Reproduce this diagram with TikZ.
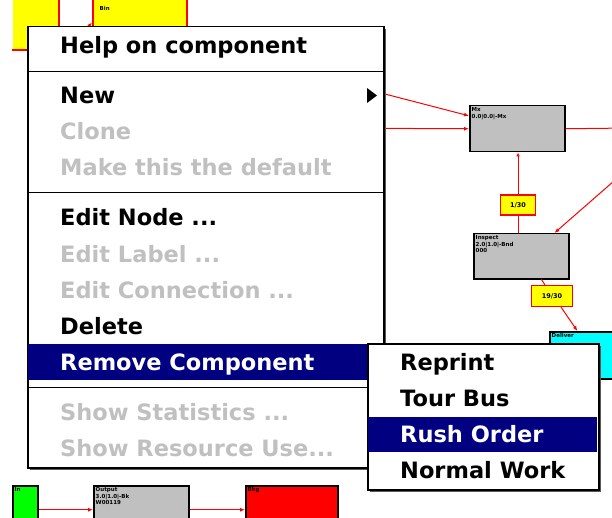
\documentclass[tikz,border=0pt]{standalone}
\usepackage{fontspec}
\setmainfont{DejaVu Sans}
\usepackage{xcolor}
\usepackage{tikz}
\usetikzlibrary{arrows.meta,positioning,calc,shadows}

\definecolor{winnavy}{RGB}{0,0,128}
\definecolor{wingrey}{RGB}{192,192,192}
\definecolor{wincyan}{RGB}{0,255,255}
\definecolor{wingreen}{RGB}{0,255,0}
\definecolor{winred}{RGB}{255,0,0}
\definecolor{winyellow}{RGB}{255,255,0}

\begin{document}
\begin{tikzpicture}[x=1pt, y=-1pt,
    item/.style={anchor=base west, inner sep=0pt, font=\fontsize{22.5}{27}\selectfont\bfseries},
    dimmed/.style={item, text=wingrey},
    picked/.style={item, text=white},
    panel/.style={draw=black, line width=1.5pt, fill=white, anchor=north west, inner sep=0pt,
        drop shadow={shadow xshift=2pt, shadow yshift=-2pt, fill=black!65, opacity=1}},
    station/.style={draw=black, line width=1.5pt, fill=wingrey, anchor=north west, inner sep=0pt, minimum width=95pt},
    bin/.style={draw=winred, line width=2pt, fill=winyellow, anchor=north west, inner sep=0pt},
    tag/.style={draw=winred, line width=1.2pt, fill=winyellow, inner sep=0pt, font=\fontsize{6.5}{7}\selectfont\bfseries},
    boxtext/.style={anchor=north west, inner sep=2.5pt, align=left, font=\fontsize{5.5}{6.5}\selectfont\bfseries},
    flow/.style={winred, line width=1pt, -{Latex[length=5pt,width=4pt]}},
    plain/.style={winred, line width=1pt},
]
\useasboundingbox (0,0) rectangle (612,518);
\clip (0,0) rectangle (612,518);
\fill[white] (0,0) rectangle (612,518);

% Model behind the menu
\node[bin, draw=none, minimum width=45pt, minimum height=68pt] (binA) at (12,-20) {};
\draw[winred, line width=2pt] (binA.north east) -- (binA.south east) -- (binA.south west);
\node[bin, minimum width=94pt, minimum height=100pt] (binB) at (92,-20) {};
\node[boxtext] (binBtxt) at ($(binB.north west)+(5,24)$) {Bin};

\node[station, minimum height=46pt] (mix) at (469,105) {};
\node[boxtext] (mixtxt) at (mix.north west) {Mx\\0.0|0.0|-Mx};
\node[station, minimum height=45pt] (inspect) at (473,233) {};
\node[boxtext] (inspecttxt) at (inspect.north west) {Inspect\\2.0|1.0|-Bnd\\000};
\node[tag, minimum width=35pt, minimum height=20pt] (tagA) at (518,205) {1/30};
\node[tag, minimum width=41pt, minimum height=21pt] (tagB) at (552,296) {19/30};
\node[station, fill=wincyan, minimum width=80pt, minimum height=47pt] (deliver) at (549,331) {};
\node[boxtext] (delivertxt) at (deliver.north west) {Deliver};

\node[station, fill=wingreen, minimum width=25pt, minimum height=48pt] (inbox) at (12,485) {};
\node[boxtext] (inboxtxt) at (inbox.north west) {In};
\node[station, minimum height=48pt] (output) at (93,485) {};
\node[boxtext] (outputtxt) at (output.north west) {Output\\3.0|1.0|-Bk\\W00119};
\node[station, fill=winred, minimum width=92pt, minimum height=48pt] (sink) at (245,485) {};
\node[boxtext] (sinktxt) at (sink.north west) {Bkg};

% Connections
\coordinate (feedA) at (300,72);
\coordinate (feedB) at (300,128);
\coordinate (feedC) at (630,167);
\coordinate (feedD) at (60,60);
\coordinate (exitA) at (630,128);
\draw[flow] (feedA) -- (mix.165);
\draw[flow] (feedB) -- (mix.west);
\draw[plain] (mix.east) -- (exitA);
\draw[winred, line width=1pt, -{Latex[open,length=4pt,width=4pt]}] (tagA.north) -- (tagA.north |- mix.south);
\draw[plain] (tagA.south) -- (tagA.south |- inspect.north);
\draw[flow] (feedC) -- (inspect.35);
\draw[plain] (inspect.-49) -- (tagB.122);
\draw[flow] (tagB.-51) -- (deliver.117);
\draw[flow] (feedD) -- (binB.170);
\draw[flow] (inbox) -- (output);
\draw[flow] (output) -- (sink);

% Context menu
\node[panel, minimum width=356pt, minimum height=441pt] (menu) at (27,26) {};
\draw[line width=1pt] (27,72) -- (383,72);
\draw[line width=1pt] (27,193) -- (383,193);
\fill[winnavy] (28,344) rectangle (382,380);
\draw[line width=1pt] (27,387) -- (383,387);

\node[item] (help) at (60,54) {Help on component};
\node[item] (new) at (60,104) {New};
\node[dimmed] (clone) at (60,140) {Clone};
\node[dimmed] (makedefault) at (60,176) {Make this the default};
\node[item] (editnode) at (60,226) {Edit Node ...};
\node[dimmed] (editlabel) at (60,262) {Edit Label ...};
\node[dimmed] (editconn) at (60,298) {Edit Connection ...};
\node[item] (delete) at (60,334) {Delete};
\node[picked] (remove) at (60,370) {Remove Component};
\node[dimmed] (showstats) at (60,420) {Show Statistics ...};
\node[dimmed] (showres) at (60,456) {Show Resource Use...};
\fill (367,88) -- (377,95.5) -- (367,103) -- cycle;

% Cascade menu
\node[panel, minimum width=231pt, minimum height=146pt] (cascade) at (367,343) {};
\fill[winnavy] (368,417) rectangle (597,452);
\node[item] (reprint) at (400,370) {Reprint};
\node[item] (tourbus) at (400,406) {Tour Bus};
\node[picked] (rushorder) at (400,442) {Rush Order};
\node[item] (normalwork) at (400,478) {Normal Work};

\end{tikzpicture}
\end{document}
